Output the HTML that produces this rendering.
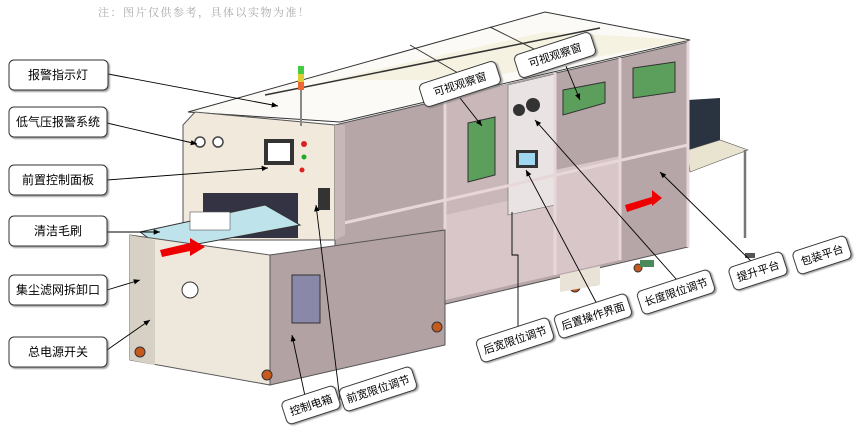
<!DOCTYPE html>
<html><head><meta charset="utf-8"><style>
html,body{margin:0;padding:0;background:#fff;}
svg{display:block;font-family:"Liberation Sans","Noto Sans CJK SC",sans-serif;}
</style></head><body>
<svg width="858" height="433" viewBox="0 0 858 433" xmlns="http://www.w3.org/2000/svg">
<defs>
<marker id="ar" markerWidth="8" markerHeight="8" refX="7" refY="4" orient="auto"><path d="M0,1 L7,4 L0,7 Z" fill="#000"/></marker>
<filter id="sh" x="-10%" y="-10%" width="130%" height="140%"><feDropShadow dx="1.5" dy="1.5" stdDeviation="0.8" flood-color="#666" flood-opacity="0.6"/></filter>
</defs>
<text x="98" y="16" font-size="11" fill="#aaa" letter-spacing="1.5" font-family="'Noto Serif CJK SC',serif">注：图片仅供参考，具体以实物为准！</text>

<!-- conveyor right -->
<polygon points="688,100 720,98 720,150 688,160" fill="#2a3340"/>
<polygon points="688,150 720,140 748,150 690,172" fill="#e8e4d0" stroke="#555" stroke-width="0.6"/>
<line x1="745" y1="150" x2="745" y2="238" stroke="#777" stroke-width="2.5"/>
<!-- roof -->
<polygon points="188,112 340,122 690,40 545,12" fill="#fbfaf6" stroke="#333" stroke-width="1"/>
<polygon points="330,80 545,32 690,40 470,80" fill="#f3ecd6" opacity="0.6"/>
<line x1="265" y1="95" x2="600" y2="28" stroke="#333" stroke-width="1.5"/>
<line x1="410" y1="45" x2="470" y2="80" stroke="#333"/>
<line x1="490" y1="27" x2="560" y2="62" stroke="#333"/>
<!-- side long face -->
<polygon points="335,125 688,42 688,247 335,330" fill="#b7a6a8" stroke="#555"/>
<polygon points="445,99 555,73 555,275 445,300" fill="#c9b7b9"/>
<polygon points="555,170 620,156 620,260 555,275" fill="#d8c6c8"/>
<polygon points="445,215 555,190 555,275 445,300" fill="#d8c6c8"/>
<polygon points="508,85 555,74 555,205 508,215" fill="#e9e3e3" stroke="#666" stroke-width="0.6"/>
<line x1="335" y1="225" x2="688" y2="145" stroke="#e7d7d9" stroke-width="3"/>
<g stroke="#e7d7d9" stroke-width="3">
<line x1="445" y1="99" x2="445" y2="300"/><line x1="555" y1="73" x2="555" y2="275"/><line x1="620" y1="58" x2="620" y2="260"/><line x1="688" y1="42" x2="688" y2="247"/>
</g>
<!-- windows -->
<polygon points="468,123 495,117 495,175 468,182" fill="#5c9e5c" stroke="#333"/>
<polygon points="563,90 605,82 605,103 563,115" fill="#5c9e5c" stroke="#333"/>
<polygon points="633,68 675,62 675,92 633,98" fill="#5c9e5c" stroke="#333"/>
<rect x="516" y="150" width="22" height="18" fill="#333"/><rect x="519" y="153" width="16" height="12" fill="#9fd6f0"/>
<circle cx="519" cy="110" r="6" fill="#333"/><circle cx="533" cy="105" r="7" fill="#333"/>
<polygon points="625,205 655,196 657,202 627,212" fill="#e00"/>
<polygon points="652,190 662,198 652,206" fill="#e00"/>
<!-- head unit -->
<polygon points="183,125 195,112 335,125 335,240 183,240" fill="#f1e9dc" stroke="#555"/>
<polygon points="335,125 345,125 345,235 335,240" fill="#c8b7b9"/>
<circle cx="200" cy="142" r="5" fill="#fff" stroke="#444" stroke-width="1.5"/>
<circle cx="218" cy="142" r="5" fill="#fff" stroke="#444" stroke-width="1.5"/>
<rect x="264" y="139" width="30" height="26" fill="#333"/><rect x="268" y="143" width="22" height="18" fill="#fff"/>
<circle cx="304" cy="144" r="3" fill="#d22"/><circle cx="304" cy="157" r="2.5" fill="#2a2"/><circle cx="302" cy="170" r="2.5" fill="#d22"/>
<rect x="318" y="188" width="12" height="22" fill="#333"/>
<rect x="203" y="193" width="95" height="45" fill="#334"/>
<rect x="298" y="66" width="6" height="8" fill="#4c4"/><rect x="298" y="74" width="6" height="8" fill="#dc3"/><rect x="298" y="82" width="6" height="8" fill="#e63"/><rect x="300" y="90" width="2" height="36" fill="#888"/>
<!-- brush conveyor -->
<polygon points="140,232 265,205 300,225 165,250" fill="#bfe3ea" stroke="#333"/>
<rect x="190" y="212" width="40" height="18" fill="#fff" stroke="#555" stroke-width="0.6"/>
<!-- lower front cabinet -->
<polygon points="130,235 270,255 270,385 130,360" fill="#eee7db" stroke="#555"/>
<polygon points="130,235 155,240 155,365 130,360" fill="#d7d0c4"/>
<polygon points="270,255 445,230 445,345 270,385" fill="#b3a2a4" stroke="#555"/>
<rect x="292" y="275" width="28" height="48" fill="#8a88a8" stroke="#333"/>
<circle cx="190" cy="290" r="8" fill="#fff" stroke="#333"/>
<polygon points="160,250 190,243 190,238 205,247 190,256 190,251 162,257" fill="#e00"/>
<!-- wheels -->
<g fill="#c65a1e" stroke="#333"><circle cx="140" cy="352" r="5"/><circle cx="267" cy="375" r="5"/><circle cx="437" cy="327" r="5"/><circle cx="575" cy="287" r="5"/><circle cx="638" cy="268" r="4"/></g>
<g fill="#4a8a5a"><rect x="582" y="278" width="14" height="8"/><rect x="640" y="260" width="14" height="7"/><rect x="745" y="253" width="10" height="5" fill="#555"/></g>
<polygon points="560,275 600,266 600,285 560,292" fill="#e8e3d6"/>

<!-- leaders -->
<g stroke="#000" stroke-width="0.9" fill="none" marker-end="url(#ar)">
<line x1="108" y1="74" x2="278" y2="106"/>
<line x1="107" y1="123" x2="197" y2="144"/>
<line x1="107" y1="180" x2="268" y2="168"/>
<line x1="107" y1="232" x2="160" y2="232"/>
<line x1="107" y1="290" x2="140" y2="280"/>
<line x1="107" y1="350" x2="150" y2="320"/>
<line x1="460" y1="98" x2="482" y2="126"/>
<line x1="566" y1="66" x2="580" y2="100"/>
<line x1="340" y1="400" x2="316" y2="205"/>
<line x1="305" y1="396" x2="292" y2="335"/>
<line x1="598" y1="306" x2="526" y2="170"/>
<line x1="677" y1="280" x2="535" y2="120"/>
<line x1="752" y1="262" x2="660" y2="172"/>
</g>
<polyline points="518,330 518,255 512,255 512,212" stroke="#000" stroke-width="0.9" fill="none"/>

<!-- left labels -->
<g font-size="12" text-anchor="middle" fill="#000">
<g filter="url(#sh)" fill="#fff" stroke="#333" stroke-width="1">
<rect x="9" y="60" width="99" height="30" rx="5"/>
<rect x="9" y="107" width="98" height="30" rx="5"/>
<rect x="9" y="165" width="98" height="30" rx="5"/>
<rect x="9" y="216" width="98" height="30" rx="5"/>
<rect x="9" y="275" width="98" height="30" rx="5"/>
<rect x="9" y="337" width="98" height="30" rx="5"/>
</g>
<text x="58" y="79">报警指示灯</text>
<text x="58" y="126">低气压报警系统</text>
<text x="58" y="184">前置控制面板</text>
<text x="58" y="235">清洁毛刷</text>
<text x="58" y="294">集尘滤网拆卸口</text>
<text x="58" y="356">总电源开关</text>
</g>

<!-- rotated labels -->
<g font-size="11" text-anchor="middle">
<g transform="translate(460,84) rotate(-18)"><rect x="-40" y="-12" width="80" height="24" rx="5" fill="#fff" stroke="#333" filter="url(#sh)"/><text y="4">可视观察窗</text></g>
<g transform="translate(555,55) rotate(-18)"><rect x="-40" y="-12" width="80" height="24" rx="5" fill="#fff" stroke="#333" filter="url(#sh)"/><text y="4">可视观察窗</text></g>
<g transform="translate(311,405) rotate(-18)"><rect x="-28" y="-12" width="56" height="24" rx="5" fill="#fff" stroke="#333" filter="url(#sh)"/><text y="4">控制电箱</text></g>
<g transform="translate(378,389) rotate(-18)"><rect x="-38" y="-12" width="76" height="24" rx="5" fill="#fff" stroke="#333" filter="url(#sh)"/><text y="4">前宽限位调节</text></g>
<g transform="translate(515,340) rotate(-18)"><rect x="-38" y="-12" width="76" height="24" rx="5" fill="#fff" stroke="#333" filter="url(#sh)"/><text y="4">后宽限位调节</text></g>
<g transform="translate(593,316) rotate(-18)"><rect x="-38" y="-12" width="76" height="24" rx="5" fill="#fff" stroke="#333" filter="url(#sh)"/><text y="4">后置操作界面</text></g>
<g transform="translate(676,292) rotate(-18)"><rect x="-38" y="-12" width="76" height="24" rx="5" fill="#fff" stroke="#333" filter="url(#sh)"/><text y="4">长度限位调节</text></g>
<g transform="translate(758,271) rotate(-18)"><rect x="-28" y="-12" width="56" height="24" rx="5" fill="#fff" stroke="#333" filter="url(#sh)"/><text y="4">提升平台</text></g>
<g transform="translate(822,255) rotate(-18)"><rect x="-28" y="-12" width="56" height="24" rx="5" fill="#fff" stroke="#333" filter="url(#sh)"/><text y="4">包装平台</text></g>
</g>
</svg>
</body></html>
